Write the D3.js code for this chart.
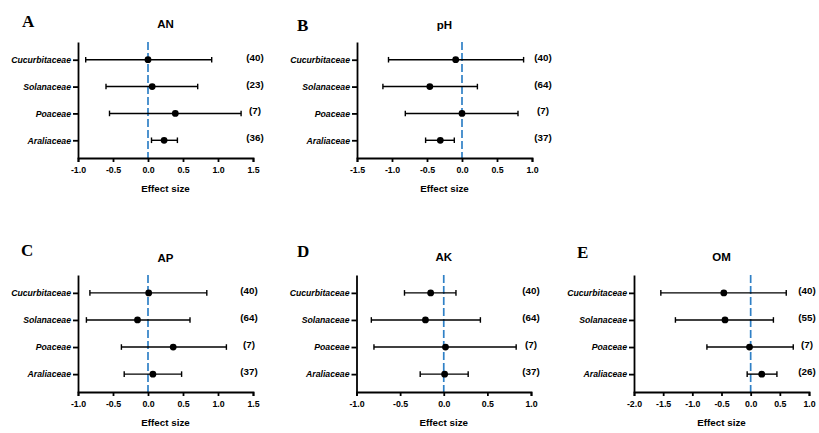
<!DOCTYPE html>
<html>
<head>
<meta charset="utf-8">
<script src="https://cdn.jsdelivr.net/npm/d3@7"></script>
<style>
  body { margin: 0; background: #fff; }
  svg { display: block; }
  .axis path, .axis line { stroke: #000; stroke-width: 1.8; }
  .axis text { font-family: "Liberation Sans", Arial, sans-serif; font-weight: bold; fill: #000; }
</style>
</head>
<body>
<script>
// families shown on every y axis, top to bottom
var families = ["Cucurbitaceae", "Solanaceae", "Poaceae", "Araliaceae"];

// AN
var anMean = [0.00, 0.06, 0.39, 0.23];
var anLow  = [-0.89, -0.60, -0.55, 0.05];
var anHigh = [0.91, 0.71, 1.33, 0.42];
var anN    = [40, 23, 7, 36];

// pH
var phMean = [-0.09, -0.46, 0.00, -0.31];
var phLow  = [-1.05, -1.13, -0.81, -0.52];
var phHigh = [0.88, 0.22, 0.80, -0.11];
var phN    = [40, 64, 7, 37];

// AP
var apMean = [0.01, -0.15, 0.36, 0.07];
var apLow  = [-0.83, -0.88, -0.38, -0.34];
var apHigh = [0.84, 0.60, 1.12, 0.48];
var apN    = [40, 64, 7, 37];

// AK
var akMean = [-0.15, -0.21, 0.02, 0.01];
var akLow  = [-0.45, -0.83, -0.80, -0.27];
var akHigh = [0.14, 0.42, 0.83, 0.28];
var akN    = [40, 64, 7, 37];

// OM
var omMean = [-0.46, -0.44, -0.02, 0.19];
var omLow  = [-1.54, -1.29, -0.75, -0.06];
var omHigh = [0.61, 0.39, 0.73, 0.45];
var omN    = [40, 55, 7, 26];

// x ticks for each panel
var ticksA = [-1.0, -0.5, 0.0, 0.5, 1.0, 1.5];
var ticksB = [-1.5, -1.0, -0.5, 0.0, 0.5, 1.0];
var ticksC = [-1.0, -0.5, 0.0, 0.5, 1.0, 1.5];
var ticksD = [-1.0, -0.5, 0.0, 0.5, 1.0];
var ticksE = [-2.0, -1.5, -1.0, -0.5, 0.0, 0.5, 1.0];

var panels = [
  { letter: "A", title: "AN", mean: anMean, low: anLow, high: anHigh, n: anN, ticks: ticksA,
    l: 78, r: 253, t: 42, b: 158, lx: 22, ly: 27, ty: 28, nx: 2 },
  { letter: "B", title: "pH", mean: phMean, low: phLow, high: phHigh, n: phN, ticks: ticksB,
    l: 357, r: 532, t: 42, b: 158, lx: 297, ly: 31, ty: 29, nx: 11 },
  { letter: "C", title: "AP", mean: apMean, low: apLow, high: apHigh, n: apN, ticks: ticksC,
    l: 78, r: 253, t: 275, b: 392, lx: 21, ly: 256, ty: 262, nx: -4 },
  { letter: "D", title: "AK", mean: akMean, low: akLow, high: akHigh, n: akN, ticks: ticksD,
    l: 356.5, r: 531, t: 275, b: 392, lx: 297, ly: 257, ty: 261, nx: 0 },
  { letter: "E", title: "OM", mean: omMean, low: omLow, high: omHigh, n: omN, ticks: ticksE,
    l: 634, r: 809, t: 275, b: 392, lx: 577, ly: 258, ty: 261, nx: -2 }
];

var svg = d3.select(document.body).append("svg")
  .attr("width", 819)
  .attr("height", 433);

panels.forEach(function(p) {
  var x = d3.scaleLinear()
    .domain([p.ticks[0], p.ticks[p.ticks.length - 1]])
    .range([p.l, p.r]);
  var y = d3.scalePoint()
    .domain(families)
    .range([p.t, p.b])
    .padding(0.66);

  var g = svg.append("g");

  // zero line
  g.append("line")
    .attr("x1", x(0)).attr("x2", x(0))
    .attr("y1", p.t).attr("y2", p.b)
    .attr("stroke", "#2f80c6")
    .attr("stroke-width", 1.7)
    .attr("stroke-dasharray", "8,3");

  g.append("g")
    .attr("class", "axis")
    .attr("transform", "translate(0," + p.b + ")")
    .call(d3.axisBottom(x).tickValues(p.ticks).tickSize(4).tickSizeOuter(4)
      .tickFormat(function(d) { return d.toFixed(1); }))
    .call(function(a) { a.selectAll("text").attr("font-size", 8.8).attr("dy", "0.9em"); });

  g.append("g")
    .attr("class", "axis")
    .attr("transform", "translate(" + p.l + ",0)")
    .call(d3.axisLeft(y).tickSize(5).tickSizeOuter(0).tickPadding(2))
    .call(function(a) {
      a.selectAll("text").attr("font-size", 8.7).attr("font-style", "italic");
    });

  var rows = families.map(function(f, i) {
    return { f: f, mean: p.mean[i], low: p.low[i], high: p.high[i], n: p.n[i] };
  });

  var row = g.selectAll(".row").data(rows).enter().append("g");

  row.append("line")
    .attr("x1", function(d) { return x(d.low); })
    .attr("x2", function(d) { return x(d.high); })
    .attr("y1", function(d) { return y(d.f); })
    .attr("y2", function(d) { return y(d.f); })
    .attr("stroke", "#000").attr("stroke-width", 1.4);

  ["low", "high"].forEach(function(k) {
    row.append("line")
      .attr("x1", function(d) { return x(d[k]); })
      .attr("x2", function(d) { return x(d[k]); })
      .attr("y1", function(d) { return y(d.f) - 2.8; })
      .attr("y2", function(d) { return y(d.f) + 2.8; })
      .attr("stroke", "#000").attr("stroke-width", 1.4);
  });

  row.append("circle")
    .attr("cx", function(d) { return x(d.mean); })
    .attr("cy", function(d) { return y(d.f); })
    .attr("r", 3.4)
    .attr("fill", "#000");

  row.append("text")
    .attr("x", p.r + p.nx)
    .attr("y", function(d) { return y(d.f) + 1; })
    .attr("text-anchor", "middle")
    .attr("font-family", "Liberation Sans, Arial, sans-serif")
    .attr("font-weight", "bold")
    .attr("font-size", 9.8)
    .text(function(d) { return "(" + d.n + ")"; });

  // titles and labels
  g.append("text")
    .attr("x", (p.l + p.r) / 2).attr("y", p.ty)
    .attr("text-anchor", "middle")
    .attr("font-family", "Liberation Sans, Arial, sans-serif")
    .attr("font-weight", "bold")
    .attr("font-size", 11.5)
    .text(p.title);

  g.append("text")
    .attr("x", (p.l + p.r) / 2).attr("y", p.b + 34)
    .attr("text-anchor", "middle")
    .attr("font-family", "Liberation Sans, Arial, sans-serif")
    .attr("font-weight", "bold")
    .attr("font-size", 9.8)
    .text("Effect size");

  g.append("text")
    .attr("x", p.lx).attr("y", p.ly)
    .attr("font-family", "Liberation Serif, Times New Roman, serif")
    .attr("font-weight", "bold")
    .attr("font-size", 17)
    .text(p.letter);
});
</script>
</body>
</html>
